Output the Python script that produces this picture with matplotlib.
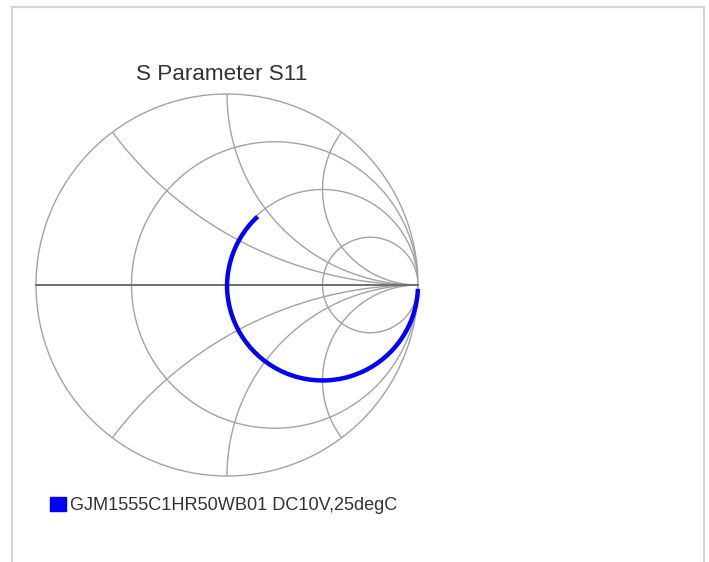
import numpy as np
import matplotlib
matplotlib.use("Agg")
import matplotlib.pyplot as plt
from matplotlib.patches import Circle
from matplotlib.lines import Line2D

plt.rcParams['font.family'] = ['Liberation Sans', 'DejaVu Sans']

# grid of the smith chart
resistencias = [1/3, 1.0, 3.0]
reatancias = [0.5, 1.0, 2.0]

# trace S11, as normalized impedance z = r + jx
x_medido = [-100, -60, -40, -30, -24, -20, -17, -14.5, -12.5, -11,
            -9.8, -8.8, -8.0, -7.2, -6.6, -6.0, -5.5, -5.0, -4.6, -4.2,
            -3.9, -3.6, -3.3, -3.05, -2.8, -2.6, -2.4, -2.2, -2.05, -1.9,
            -1.75, -1.62, -1.5, -1.38, -1.27, -1.17, -1.07, -0.98, -0.9, -0.82,
            -0.74, -0.66, -0.59, -0.52, -0.45, -0.38, -0.32, -0.26, -0.2, -0.14,
            -0.08, -0.02, 0.04, 0.1, 0.16, 0.22, 0.28, 0.34, 0.4, 0.46,
            0.52, 0.58, 0.64, 0.7, 0.76, 0.81, 0.86]
r_medido = [1.000] * 52 + [1.001, 1.002, 1.003, 1.004, 1.005, 1.006, 1.007, 1.008,
                           1.009, 1.010, 1.011, 1.012, 1.013, 1.014, 1.015]

titulo = "S Parameter S11"
legenda = "GJM1555C1HR50WB01 DC10V,25degC"

fig = plt.figure(figsize=(7.09, 5.62), dpi=100)
fig.patch.set_facecolor("white")

# frame of the page
cor_borda = "#d2d5d9"
fig.add_artist(Line2D([12/709, 12/709], [0, 1 - 7/562], color=cor_borda, lw=1.6))
fig.add_artist(Line2D([12/709, 704/709], [1 - 7/562, 1 - 7/562], color=cor_borda, lw=1.6))
fig.add_artist(Line2D([704/709, 704/709], [0, 1 - 7/562], color=cor_borda, lw=1.6))

ax = fig.add_axes([36/709, 86/562, 382/709, 382/562])
ax.set_xlim(-1, 1)
ax.set_ylim(-1, 1)
ax.set_aspect("equal")
ax.axis("off")

cor_grade = "#a3a3a3"
borda = Circle((0, 0), 1, fill=False, ec=cor_grade, lw=1.0, clip_on=False)
ax.add_patch(borda)
clip = Circle((0, 0), 1, transform=ax.transData, visible=False)
ax.add_patch(clip)

t = np.linspace(0, 2*np.pi, 721)
for r in resistencias:
    c = r / (r + 1)
    rad = 1 / (r + 1)
    ax.plot(c + rad*np.cos(t), rad*np.sin(t), color=cor_grade, lw=1.0)

for x in reatancias:
    rad = 1 / x
    for s in (1, -1):
        ln, = ax.plot(1 + rad*np.cos(t), s*rad + rad*np.sin(t), color=cor_grade, lw=1.0)
        ln.set_clip_path(clip)

ax.plot([-1, 1], [0, 0], color="#6e6e6e", lw=1.4, clip_on=False)

# trace
z = np.array(r_medido) + 1j*np.array(x_medido)
gama = (z - 1) / (z + 1)
ax.plot(gama.real, gama.imag, color="#0000ff", lw=3.2, solid_capstyle="butt",
        solid_joinstyle="round", clip_on=False)

fig.text(222/709, 1 - 74/562, titulo, ha="center", va="center", fontsize=16.2, color="#333333")

fig.add_artist(plt.Rectangle((50/709, 1 - 511/562), 16/709, 14/562, color="#0000ff",
                             transform=fig.transFigure))
fig.text(70/709, 1 - 505/562, legenda, ha="left", va="center", fontsize=13.1, color="#333333")

fig.savefig("out.png", dpi=100)
